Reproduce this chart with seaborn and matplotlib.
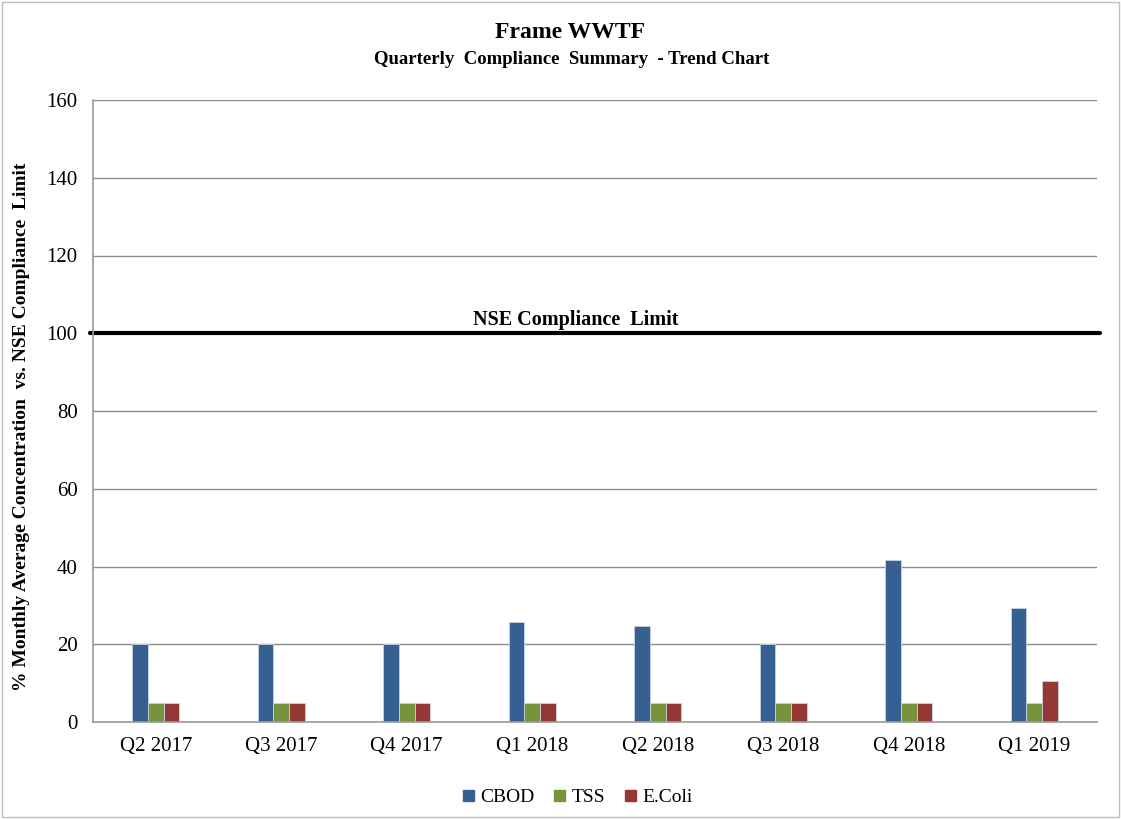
import matplotlib
matplotlib.use("Agg")
import matplotlib.pyplot as plt
import seaborn as sns
import pandas as pd
from matplotlib.patches import Rectangle

quarters = ["Q2 2017", "Q3 2017", "Q4 2017", "Q1 2018", "Q2 2018", "Q3 2018", "Q4 2018", "Q1 2019"]
cbod = [20, 20, 20, 25.6, 24.6, 20, 41.8, 29.4]
tss = [5, 5, 5, 5, 5, 5, 5, 5]
ecoli = [5, 5, 5, 5, 5, 5, 5, 10.6]
series = ["CBOD", "TSS", "E.Coli"]
colors = ["#376092", "#77933C", "#953735"]
limit = 100

df = pd.DataFrame({
    "Quarter": quarters * 3,
    "Value": cbod + tss + ecoli,
    "Series": [s for s in series for _ in quarters],
})

sns.set_theme(style="white")
plt.rcParams["font.family"] = ["Liberation Serif", "DejaVu Serif"]
plt.rcParams["text.color"] = "black"
plt.rcParams["axes.labelcolor"] = "black"

fig = plt.figure(figsize=(11.21, 8.19), dpi=100)
ax = fig.add_axes([93/1121, 1-722/819, (1097-93)/1121, (722-100)/819])

sns.barplot(data=df, x="Quarter", y="Value", hue="Series", palette=colors, saturation=1,
            width=0.375, ax=ax, edgecolor="#c8d3e0", linewidth=0.6, legend=True)

ax.set_ylim(0, 160)
ax.set_xlim(-0.5, len(quarters) - 0.5)
ax.set_yticks(range(0, 161, 20))
ax.yaxis.grid(True, color="#8c8c8c", linewidth=1.0)
ax.set_axisbelow(True)
for s in ["top", "right"]:
    ax.spines[s].set_visible(False)
for s in ["left", "bottom"]:
    ax.spines[s].set_color("#9a9a9a")
    ax.spines[s].set_linewidth(1.2)
ax.tick_params(axis="both", labelsize=15, colors="black", length=0)
ax.set_xticks(range(len(quarters)))
ax.set_xticklabels(quarters)
ax.set_xticks([i - 0.5 for i in range(len(quarters) + 1)], minor=True)
ax.tick_params(axis="x", which="both", direction="out", length=5, color="#9a9a9a", width=1.2)
ax.tick_params(axis="x", which="major", pad=6, labelcolor="black")
ax.tick_params(axis="y", which="major", direction="out", length=5, color="#9a9a9a", pad=6,
               labelcolor="black")
ax.set_xlabel("")
ax.set_ylabel("% Monthly Average Concentration  vs. NSE Compliance  Limit",
              fontsize=14, fontweight="bold", color="black")
ax.yaxis.set_label_coords(-0.063, 0.474)

ax.axhline(limit, color="black", linewidth=3, clip_on=False, xmin=-0.003, xmax=1.003)
ax.text(3.35, limit + 0.8, "NSE Compliance  Limit", ha="center", va="bottom",
        fontsize=14.5, fontweight="bold", color="black")

fig.text(570/1121, 1-32/819, "Frame WWTF", ha="center", va="center", fontsize=17,
         fontweight="bold", color="black")
fig.text(572/1121, 1-60/819, "Quarterly  Compliance  Summary  - Trend Chart", ha="center",
         va="center", fontsize=13.5, fontweight="bold", color="black")

ax.legend_.remove()
handles = [Rectangle((0, 0), 1, 1, color=c) for c in colors]
fig.legend(handles, series, loc="center", bbox_to_anchor=(578/1121, 1-798/819), ncol=3,
           frameon=False, fontsize=14, handlelength=0.55, handleheight=0.55,
           handletextpad=0.35, columnspacing=1.0, labelcolor="black")

fig.patches.append(Rectangle((0.002, 0.002), 0.996, 0.996, transform=fig.transFigure,
                             fill=False, edgecolor="#bfbfbf", linewidth=1))

fig.savefig("out.png", dpi=100)
